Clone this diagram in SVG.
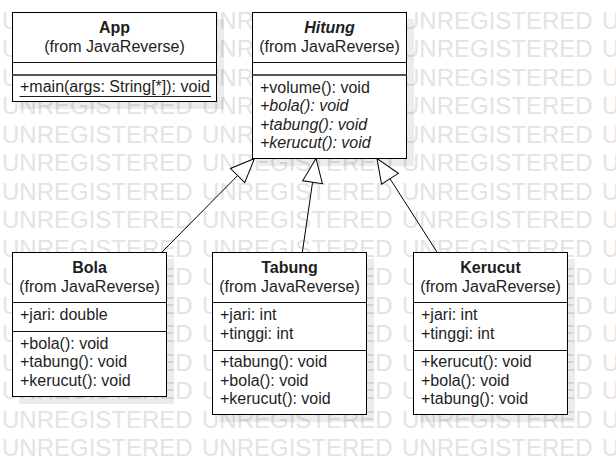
<svg xmlns="http://www.w3.org/2000/svg" xmlns:xlink="http://www.w3.org/1999/xlink" width="616" height="465" viewBox="0 0 616 465">
<style>
  .wm { font-family: "Liberation Sans", Arial, sans-serif; font-size: 24px; fill: #e3e3e3; word-spacing: 2.65px; }
  .box { fill: #ffffff; stroke: #000000; stroke-width: 1; }
  .shadow { fill: #000000; fill-opacity: 0.075; }
  .div { stroke: #111111; stroke-width: 1; }
  .div2 { stroke: #555555; stroke-width: 2; }
  text.t { font-family: "Liberation Sans", Arial, sans-serif; font-size: 16px; fill: #1e1e1e; }
  .name { font-weight: bold; text-anchor: middle; fill: #000; }
  .ctr { text-anchor: middle; }
  .it { font-style: italic; }
  .ul { stroke: #1e1e1e; stroke-width: 1; }
  .conn { stroke: #000000; stroke-width: 1; fill: none; }
</style>
<defs>
  <marker id="gen" markerUnits="userSpaceOnUse" viewBox="-26 -12 28 24" refX="0" refY="0" markerWidth="28" markerHeight="24" orient="auto" overflow="visible">
    <path d="M0,0 L-24,-10 L-24,10 Z" fill="#ffffff" stroke="#000000" stroke-width="1"/>
  </marker>
  <text id="wm" class="wm" x="2" y="0">UNREGISTERED UNREGISTERED UNREGISTERED UNREGISTERED</text>
</defs>
<rect x="0" y="0" width="616" height="465" fill="#ffffff"/>
<g id="watermark">
  <use xlink:href="#wm" href="#wm" y="28.5"/>
  <use xlink:href="#wm" href="#wm" y="57"/>
  <use xlink:href="#wm" href="#wm" y="85.5"/>
  <use xlink:href="#wm" href="#wm" y="114.1"/>
  <use xlink:href="#wm" href="#wm" y="142.6"/>
  <use xlink:href="#wm" href="#wm" y="171.1"/>
  <use xlink:href="#wm" href="#wm" y="199.6"/>
  <use xlink:href="#wm" href="#wm" y="228.1"/>
  <use xlink:href="#wm" href="#wm" y="256.7"/>
  <use xlink:href="#wm" href="#wm" y="285.2"/>
  <use xlink:href="#wm" href="#wm" y="313.7"/>
  <use xlink:href="#wm" href="#wm" y="342.2"/>
  <use xlink:href="#wm" href="#wm" y="370.7"/>
  <use xlink:href="#wm" href="#wm" y="399.3"/>
  <use xlink:href="#wm" href="#wm" y="427.8"/>
  <use xlink:href="#wm" href="#wm" y="456.3"/>
</g>
<g id="shadows">
  <rect class="shadow" x="19" y="19" width="205" height="90"/>
  <rect class="shadow" x="259" y="19" width="155" height="147"/>
  <rect class="shadow" x="19" y="259" width="155" height="145"/>
  <rect class="shadow" x="219" y="259" width="155" height="163"/>
  <rect class="shadow" x="420" y="259" width="155" height="163"/>
</g>
<g id="connectors">
  <line class="conn" x1="161.6" y1="252.5" x2="254.5" y2="158.5" marker-end="url(#gen)"/>
  <line class="conn" x1="302.3" y1="252.5" x2="316" y2="158.5" marker-end="url(#gen)"/>
  <line class="conn" x1="437.3" y1="252.5" x2="377" y2="158.5" marker-end="url(#gen)"/>
</g>
<g id="App">
  <rect class="box" x="12.5" y="12.5" width="204" height="89"/>
  <line class="div" x1="12.5" y1="62.5" x2="216.5" y2="62.5"/>
  <line class="div2" x1="12.5" y1="75" x2="216.5" y2="75"/>
  <text class="t name" x="114.5" y="33.3">App</text>
  <text class="t ctr" x="114.5" y="51.7">(from JavaReverse)</text>
  <text class="t" x="20" y="92">+main(args: String[*]): void</text>
  <line class="ul" x1="19.5" y1="96.5" x2="211" y2="96.5"/>
</g>
<g id="Hitung">
  <rect class="box" x="252.5" y="12.5" width="154" height="146"/>
  <line class="div" x1="252.5" y1="62.5" x2="406.5" y2="62.5"/>
  <line class="div2" x1="252.5" y1="75" x2="406.5" y2="75"/>
  <text class="t name it" x="329.5" y="33.3">Hitung</text>
  <text class="t ctr" x="329.5" y="51.7">(from JavaReverse)</text>
  <text class="t" x="260" y="92.5">+volume(): void</text>
  <text class="t it" x="260" y="111">+bola(): void</text>
  <text class="t it" x="260" y="129.5">+tabung(): void</text>
  <text class="t it" x="260" y="148">+kerucut(): void</text>
</g>
<g id="Bola">
  <rect class="box" x="12.5" y="252.5" width="154" height="144"/>
  <line class="div" x1="12.5" y1="302.5" x2="166.5" y2="302.5"/>
  <line class="div" x1="12.5" y1="331.5" x2="166.5" y2="331.5"/>
  <text class="t name" x="89.5" y="273.3">Bola</text>
  <text class="t ctr" x="89.5" y="291.7">(from JavaReverse)</text>
  <text class="t" x="20" y="320.3">+jari: double</text>
  <text class="t" x="20" y="348.5">+bola(): void</text>
  <text class="t" x="20" y="367">+tabung(): void</text>
  <text class="t" x="20" y="385.5">+kerucut(): void</text>
</g>
<g id="Tabung">
  <rect class="box" x="212.5" y="252.5" width="154" height="162"/>
  <line class="div" x1="212.5" y1="302.5" x2="366.5" y2="302.5"/>
  <line class="div" x1="212.5" y1="350.5" x2="366.5" y2="350.5"/>
  <text class="t name" x="289.5" y="273.3">Tabung</text>
  <text class="t ctr" x="289.5" y="291.7">(from JavaReverse)</text>
  <text class="t" x="220" y="320.3">+jari: int</text>
  <text class="t" x="220" y="338.8">+tinggi: int</text>
  <text class="t" x="220" y="367">+tabung(): void</text>
  <text class="t" x="220" y="385.5">+bola(): void</text>
  <text class="t" x="220" y="404">+kerucut(): void</text>
</g>
<g id="Kerucut">
  <rect class="box" x="413.5" y="252.5" width="154" height="162"/>
  <line class="div" x1="413.5" y1="302.5" x2="567.5" y2="302.5"/>
  <line class="div" x1="413.5" y1="350.5" x2="567.5" y2="350.5"/>
  <text class="t name" x="490.5" y="273.3">Kerucut</text>
  <text class="t ctr" x="490.5" y="291.7">(from JavaReverse)</text>
  <text class="t" x="421" y="320.3">+jari: int</text>
  <text class="t" x="421" y="338.8">+tinggi: int</text>
  <text class="t" x="421" y="367">+kerucut(): void</text>
  <text class="t" x="421" y="385.5">+bola(): void</text>
  <text class="t" x="421" y="404">+tabung(): void</text>
</g>
</svg>
